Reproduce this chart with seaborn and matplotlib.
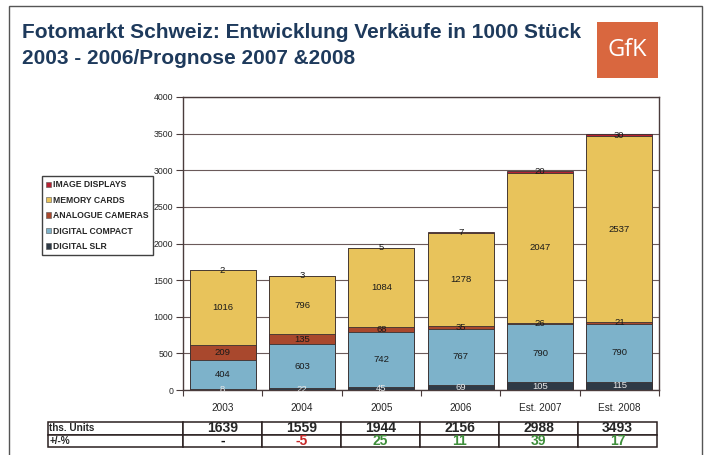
import numpy as np
import pandas as pd
import seaborn as sns
import matplotlib
matplotlib.use("Agg")
import matplotlib.pyplot as plt
from matplotlib.patches import Rectangle, Patch

# ---- data ----
years = ["2003", "2004", "2005", "2006", "Est. 2007", "Est. 2008"]
digital_slr = [8, 22, 45, 69, 105, 115]
digital_compact = [404, 603, 742, 767, 790, 790]
analogue_cameras = [209, 135, 68, 35, 26, 21]
memory_cards = [1016, 796, 1084, 1278, 2047, 2537]
image_displays = [2, 3, 5, 7, 20, 30]
totals = [1639, 1559, 1944, 2156, 2988, 3493]
change_pct = ["-", "-5", "25", "11", "39", "17"]
yticks = [0, 500, 1000, 1500, 2000, 2500, 3000, 3500, 4000]

series_names = ["DIGITAL SLR", "DIGITAL COMPACT", "ANALOGUE CAMERAS", "MEMORY CARDS", "IMAGE DISPLAYS"]
series_vals = [digital_slr, digital_compact, analogue_cameras, memory_cards, image_displays]
colors = ["#2E3A46", "#7DB2CA", "#A9482D", "#E8C35B", "#B62233"]
label_colors = ["#e8e8e8", "#1a1a1a", "#1a1a1a", "#1a1a1a", "#1a1a1a"]

sns.set_style("white")
plt.rcParams['font.family'] = ['Liberation Sans', 'DejaVu Sans']

fig = plt.figure(figsize=(7.08, 4.55), dpi=100)
W, H = 708, 455

def fx(px):
    return px / W

def fy(py):
    return 1 - py / H

# outer frame
fig.patches.append(Rectangle((fx(9), -0.1), fx(702) - fx(9), fy(6) + 0.1,
                             transform=fig.transFigure, fill=False,
                             edgecolor="#555555", linewidth=1.0))

# title
fig.text(fx(22), fy(33), "Fotomarkt Schweiz: Entwicklung Verkäufe in 1000 Stück",
         fontsize=15, fontweight="bold", color="#1E3A5C", va="center", ha="left")
fig.text(fx(22), fy(59), "2003 - 2006/Prognose 2007 &2008",
         fontsize=15, fontweight="bold", color="#1E3A5C", va="center", ha="left")

# logo
fig.patches.append(Rectangle((fx(597), fy(78)), fx(658) - fx(597), fy(22) - fy(78),
                             transform=fig.transFigure, facecolor="#D9673F",
                             edgecolor="none"))
fig.text(fx(627.5), fy(50), "GfK", fontsize=17, color="white", ha="center",
         va="center", family=['Open Sans', 'DejaVu Sans'])

# main axes
ax = fig.add_axes([fx(183), fy(390), fx(659) - fx(183), fy(97) - fy(390)])

df = pd.DataFrame({"year": years})
cum = np.zeros(len(years))
cums = []
for v in series_vals:
    cum = cum + np.array(v)
    cums.append(cum.copy())

# draw from top cumulative down
for i in range(len(series_vals) - 1, -1, -1):
    df["c"] = cums[i]
    sns.barplot(data=df, x="year", y="c", color=colors[i], saturation=1,
                width=0.835, edgecolor="#3a3030", linewidth=0.6, ax=ax, zorder=2)

# labels
for i, v in enumerate(series_vals):
    for j, val in enumerate(v):
        ypos = cums[i][j] - val / 2
        ax.text(j, ypos, str(val), ha="center", va="center", fontsize=6.8,
                color=label_colors[i], zorder=5)

ax.set_ylim(0, 4000)
ax.set_xlim(-0.5, len(years) - 0.5)
ax.set_yticks(yticks)
ax.set_yticklabels([str(t) for t in yticks], fontsize=6.3)
ax.set_xticks(range(len(years)))
ax.set_xticklabels(years, fontsize=7.2)
ax.set_xlabel("")
ax.set_ylabel("")
ax.yaxis.grid(True, color="#6b5a5a", linewidth=0.8, zorder=0)
ax.set_axisbelow(True)
for s in ax.spines.values():
    s.set_color("#4a3c3c")
    s.set_linewidth(1.0)
ax.tick_params(axis="y", which="both", left=True, length=5, width=0.8, color="#4a3c3c", pad=2)
ax.tick_params(axis="x", bottom=False, pad=6)
# minor ticks at category boundaries
ax.set_xticks(np.arange(-0.5, len(years)), minor=True)
ax.tick_params(axis="x", which="minor", bottom=True, length=4, width=0.8, color="#4a3c3c")

# legend
handles = [Patch(facecolor=colors[i], edgecolor="#555555", linewidth=0.4, label=series_names[i])
           for i in range(len(series_names) - 1, -1, -1)]
leg = fig.legend(handles=handles, loc="upper left",
                 bbox_to_anchor=(fx(42), fy(176)), bbox_transform=fig.transFigure,
                 prop={"size": 6.2, "weight": "bold"}, frameon=True, fancybox=False,
                 handlelength=0.6, handleheight=0.6, handletextpad=0.2,
                 labelspacing=0.75, borderpad=0.5, borderaxespad=0)
leg.get_frame().set_edgecolor("#111111")
leg.get_frame().set_linewidth(1.0)

# table
tax = fig.add_axes([fx(48), fy(447), fx(657) - fx(48), fy(422) - fy(447)])
tax.axis("off")
cell_text = [["ths. Units"] + [str(t) for t in totals],
             ["+/-%"] + change_pct]
col_w = [135] + [79] * len(years)
col_w = [c / sum(col_w) for c in col_w]
tbl = tax.table(cellText=cell_text, colWidths=col_w, bbox=[0, 0, 1, 1], cellLoc="center")
tbl.auto_set_font_size(False)
chg_colors = ["#111111", "#C62828", "#3E8E3A", "#3E8E3A", "#3E8E3A", "#3E8E3A"]
for (r, c), cell in tbl.get_celld().items():
    cell.set_edgecolor("#2a1f1f")
    cell.set_linewidth(1.1)
    txt = cell.get_text()
    txt.set_fontweight("bold")
    if c == 0:
        txt.set_ha("left")
        cell._loc = "left"
        cell.PAD = 0.01
        txt.set_fontsize(7.2)
    else:
        txt.set_fontsize(10)
        if r == 1:
            txt.set_color(chg_colors[c - 1])

fig.savefig("out.png", dpi=100)
